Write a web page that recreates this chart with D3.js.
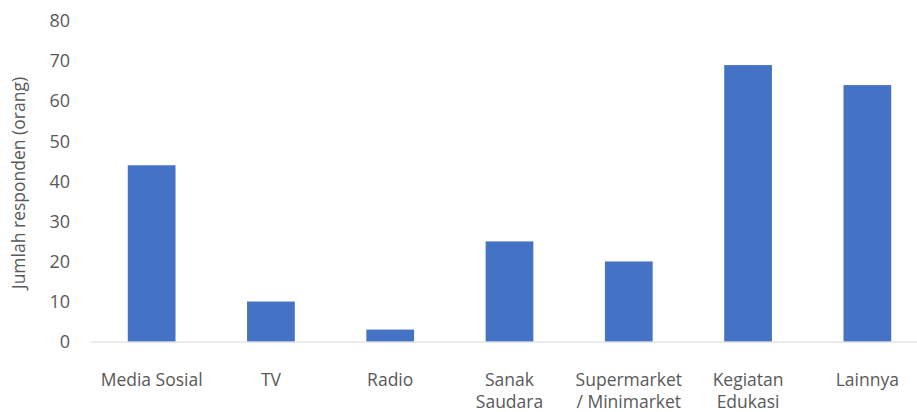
<!DOCTYPE html>
<html>
<head>
<meta charset="utf-8">
<script src="https://cdn.jsdelivr.net/npm/d3@7"></script>
<style>
  body { margin: 0; background: #fff; }
  text { font-family: "Open Sans", "Noto Sans", sans-serif; fill: #595959; }
</style>
</head>
<body>
<div id="chart"></div>
<script>
// sumber informasi responden
const categories = [["Media Sosial"], ["TV"], ["Radio"], ["Sanak", "Saudara"],
                    ["Supermarket", "/ Minimarket"], ["Kegiatan", "Edukasi"], ["Lainnya"]];
const values = [44, 10, 3, 25, 20, 69, 64];
const yTicks = [0, 10, 20, 30, 40, 50, 60, 70, 80];
const yTitle = "Jumlah responden (orang)";

const width = 917, height = 412;

const svg = d3.select("#chart").append("svg")
    .attr("width", width)
    .attr("height", height);

const x = d3.scaleBand()
    .domain(d3.range(categories.length))
    .range([92, 927])
    .paddingInner(0.6)
    .paddingOuter(0.3);

const y = d3.scaleLinear()
    .domain([0, 80])
    .range([341.6, 21]);

// y tick labels (no axis line)
svg.selectAll(".ytick")
  .data(yTicks)
  .enter().append("text")
    .attr("class", "ytick")
    .attr("x", 70)
    .attr("y", d => y(d))
    .attr("dy", "0.35em")
    .style("text-anchor", "end")
    .style("font-size", "18px")
    .text(d => d);

svg.append("text")
    .attr("transform", "translate(25," + 183 + ") rotate(-90)")
    .style("text-anchor", "middle")
    .style("font-size", "17.5px")
    .text(yTitle);

svg.selectAll(".bar")
  .data(values)
  .enter().append("rect")
    .attr("class", "bar")
    .attr("x", (d, i) => x(i))
    .attr("y", d => y(d))
    .attr("width", x.bandwidth())
    .attr("height", d => y(0) - y(d))
    .style("fill", "#4472c4");

// baseline
svg.append("line")
    .attr("x1", 91).attr("x2", width)
    .attr("y1", y(0) + 0.5).attr("y2", y(0) + 0.5)
    .style("stroke", "#d9d9d9")
    .style("stroke-width", 1);

const labels = svg.selectAll(".xlabel")
  .data(categories)
  .enter().append("text")
    .attr("class", "xlabel")
    .attr("x", (d, i) => x(i) + x.bandwidth() / 2)
    .attr("y", 386)
    .style("text-anchor", "middle")
    .style("font-size", "17.5px");

labels.selectAll("tspan")
  .data(d => d)
  .enter().append("tspan")
    .attr("x", function () { return d3.select(this.parentNode).attr("x"); })
    .attr("dy", (d, i) => i === 0 ? 0 : 22)
    .text(d => d);
</script>
</body>
</html>
